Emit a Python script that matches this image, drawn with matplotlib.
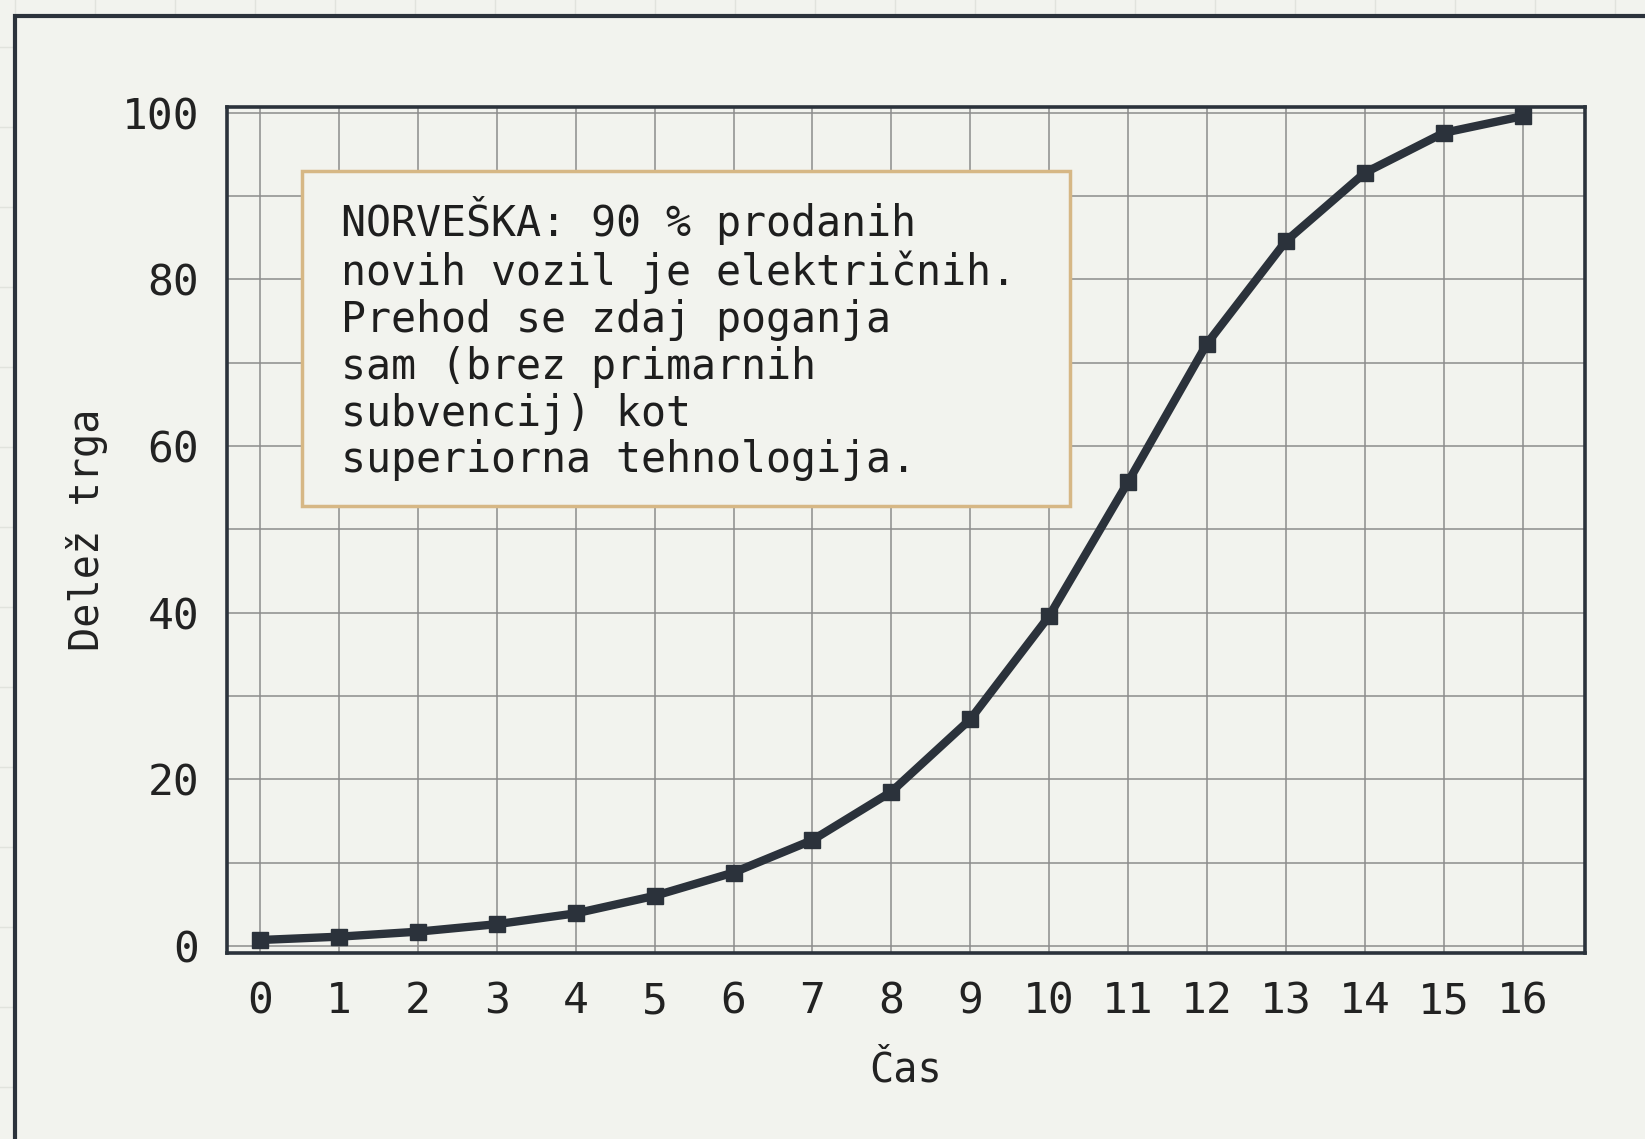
import matplotlib
matplotlib.use('Agg')
import matplotlib.pyplot as plt
from matplotlib.patches import Rectangle
import numpy as np

# data
time = list(range(17))
share = [0.7, 1.1, 1.7, 2.6, 3.9, 6.0, 8.8, 12.7, 18.5, 27.2,
         39.6, 55.7, 72.3, 84.6, 92.8, 97.6, 99.6]
y_ticks = [0, 20, 40, 60, 80, 100]
note = ("NORVEŠKA: 90 % prodanih\n"
        "novih vozil je električnih.\n"
        "Prehod se zdaj poganja\n"
        "sam (brez primarnih\n"
        "subvencij) kot\n"
        "superiorna tehnologija.")

BG = '#f2f3ee'
INK = '#2b323b'
GRID = '#8c8c8c'

plt.rcParams['font.family'] = ['DejaVu Sans Mono']

W, H = 1645, 1139
fig = plt.figure(figsize=(W / 100, H / 100), dpi=100, facecolor=BG)

# graph paper behind the card
bg = fig.add_axes([0, 0, 1, 1], zorder=-10)
bg.set_xlim(0, W)
bg.set_ylim(H, 0)
bg.set_facecolor(BG)
for xv in np.arange(15, W, 80):
    bg.axvline(xv, color='#e1e3dd', lw=1)
for yv in np.arange(47, H, 80):
    bg.axhline(yv, color='#e1e3dd', lw=1)
bg.add_patch(Rectangle((15, 16), 2000, 2000, facecolor=BG, edgecolor=INK, lw=3, zorder=5))
bg.axis('off')

ax = fig.add_axes([227 / W, 1 - 952.5 / H, (1585 - 227) / W, (952.5 - 107) / H])
ax.set_facecolor(BG)
ax.plot(time, share, color=INK, lw=6, marker='s', markersize=12, zorder=4)

ax.set_xlim(-0.42, 16.79)
ax.set_ylim(-0.8, 100.7)
ax.set_xticks(time)
ax.set_yticks(y_ticks)
ax.set_yticks(np.arange(10, 100, 20), minor=True)
ax.grid(True, which='both', color=GRID, lw=1.1, zorder=0)
ax.set_axisbelow(True)
ax.tick_params(which='both', length=0, labelsize=31, colors='#222222', pad=20)
for s in ax.spines.values():
    s.set_color(INK)
    s.set_linewidth(2.6)

ax.set_xlabel('Čas', fontsize=29, color='#222222', labelpad=20)
ax.set_ylabel('Delež trga', fontsize=29, color='#222222', labelpad=10)

# annotation card
fig.add_artist(Rectangle((302 / W, 1 - 506 / H), 768 / W, 335 / H,
                         transform=fig.transFigure, facecolor=BG,
                         edgecolor='#d6b785', lw=2.5, zorder=3))
fig.text(341 / W, 1 - 196 / H, note, fontsize=30, color='#1e1e1e',
         va='top', ha='left', linespacing=1.15, zorder=4)

fig.savefig('out.png', dpi=100, facecolor=BG)
plt.close(fig)
